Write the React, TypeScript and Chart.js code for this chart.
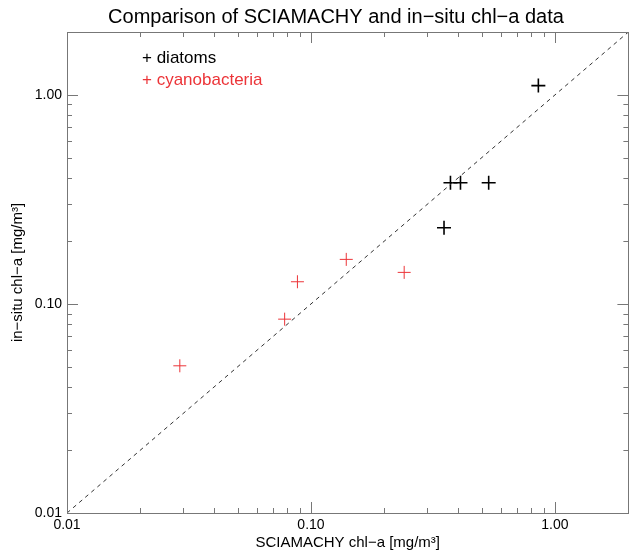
import React, { useEffect, useRef } from "react";
import { Chart, registerables } from "chart.js";
Chart.register(...registerables);

const diatomsX = [0.855, 0.373, 0.41, 0.535, 0.351];
const diatomsY = [1.108, 0.38, 0.38, 0.38, 0.2315];
const cyanoX = [0.029, 0.078, 0.088, 0.1395, 0.241];
const cyanoY = [0.0506, 0.0846, 0.1277, 0.1634, 0.1416];
const oneToOne = [0.01, 2.0];
const axisMin = 0.01;
const axisMax = 2.0;
const majorTicks = [0.01, 0.1, 1];
const tickLabels = ["0.01", "0.10", "1.00"];
const minorTicks = [0.02, 0.03, 0.04, 0.05, 0.06, 0.07, 0.08, 0.09, 0.2, 0.3, 0.4, 0.5, 0.6, 0.7, 0.8, 0.9, 2];
const titleText = "Comparison of SCIAMACHY and in\u2212situ chl\u2212a data";
const xTitle = "SCIAMACHY chl\u2212a [mg/m\u00b3]";
const yTitle = "in\u2212situ chl\u2212a [mg/m\u00b3]";
const legendLabels = ["+ diatoms", "+ cyanobacteria"];

const FONT = "'Liberation Sans', Arial, sans-serif";
const RED = "rgb(236,52,56)";

const decorPlugin = {
  id: "decor",
  afterDraw(chart: any) {
    const ctx = chart.ctx;
    const a = chart.chartArea;
    const xs = chart.scales.x;
    const ys = chart.scales.y;
    ctx.save();
    ctx.strokeStyle = "#777";
    ctx.lineWidth = 1;
    ctx.strokeRect(Math.round(a.left) + 0.5, Math.round(a.top) + 0.5, Math.round(a.right - a.left), Math.round(a.bottom - a.top));
    const drawTick = (v: number, len: number) => {
      const px = Math.round(xs.getPixelForValue(v)) + 0.5;
      const py = Math.round(ys.getPixelForValue(v)) + 0.5;
      ctx.beginPath();
      ctx.moveTo(px, a.bottom); ctx.lineTo(px, a.bottom - len);
      ctx.moveTo(px, a.top); ctx.lineTo(px, a.top + len);
      ctx.moveTo(a.left, py); ctx.lineTo(a.left + len, py);
      ctx.moveTo(a.right, py); ctx.lineTo(a.right - len, py);
      ctx.stroke();
    };
    majorTicks.forEach((v) => drawTick(v, 11));
    minorTicks.forEach((v) => drawTick(v, 5));

    ctx.fillStyle = "#000";
    ctx.font = "14px " + FONT;
    majorTicks.forEach((v, i) => {
      ctx.textAlign = "center";
      ctx.textBaseline = "middle";
      ctx.fillText(tickLabels[i], xs.getPixelForValue(v), a.bottom + 12);
      ctx.textAlign = "right";
      ctx.fillText(tickLabels[i], a.left - 5, ys.getPixelForValue(v));
    });

    ctx.font = "15px " + FONT;
    ctx.textAlign = "center";
    ctx.textBaseline = "middle";
    ctx.fillText(xTitle, (a.left + a.right) / 2, 543);
    ctx.save();
    ctx.translate(18, (a.top + a.bottom) / 2);
    ctx.rotate(-Math.PI / 2);
    ctx.fillText(yTitle, 0, 0);
    ctx.restore();

    ctx.font = "20px " + FONT;
    ctx.fillText(titleText, 336, 17);

    ctx.font = "17px " + FONT;
    ctx.textAlign = "left";
    ctx.fillStyle = "#000";
    ctx.fillText(legendLabels[0], 142, 58);
    ctx.fillStyle = RED;
    ctx.fillText(legendLabels[1], 142, 80);
    ctx.restore();
  },
};

export default function App() {
  const ref = useRef<HTMLCanvasElement>(null);
  useEffect(() => {
    if (!ref.current) return;
    const chart = new Chart(ref.current, {
      type: "scatter",
      data: {
        datasets: [
          {
            label: "1:1",
            data: oneToOne.map((v) => ({ x: v, y: v })),
            showLine: true,
            borderColor: "#333",
            borderWidth: 1,
            borderDash: [4, 4],
            pointRadius: 0,
          },
          {
            label: "diatoms",
            data: diatomsX.map((x, i) => ({ x, y: diatomsY[i] })),
            pointStyle: "cross",
            pointRadius: 7,
            borderColor: "#000",
            borderWidth: 1.6,
          },
          {
            label: "cyanobacteria",
            data: cyanoX.map((x, i) => ({ x, y: cyanoY[i] })),
            pointStyle: "cross",
            pointRadius: 6.5,
            borderColor: RED,
            borderWidth: 1,
          },
        ],
      },
      options: {
        animation: false,
        responsive: false,
        devicePixelRatio: 1,
        layout: { padding: { top: 32, right: 6, left: 0, bottom: 0 } },
        plugins: { legend: { display: false }, title: { display: false }, tooltip: { enabled: false } },
        scales: {
          x: {
            type: "logarithmic",
            min: axisMin,
            max: axisMax,
            ticks: { display: false },
            grid: { display: false },
            border: { display: false },
            afterFit: (s: any) => { s.height = 41; },
          },
          y: {
            type: "logarithmic",
            min: axisMin,
            max: axisMax,
            ticks: { display: false },
            grid: { display: false },
            border: { display: false },
            afterFit: (s: any) => { s.width = 67; },
          },
        },
      },
      plugins: [decorPlugin],
    } as any);
    return () => chart.destroy();
  }, []);
  return (
    <div style={{ position: "fixed", left: 0, top: 0, width: 629, height: 554, overflow: "hidden", background: "#fff" }}>
      <canvas ref={ref} width={637} height={554} style={{ display: "block" }} />
    </div>
  );
}
